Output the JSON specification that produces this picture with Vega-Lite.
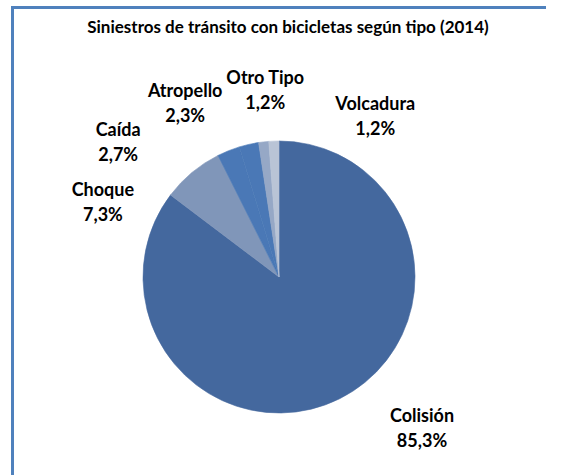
{
  "$schema": "https://vega.github.io/schema/vega-lite/v6.json",
  "width": 534,
  "height": 540,
  "autosize": "none",
  "padding": {"left": 12, "top": 7, "right": 0, "bottom": 0},
  "background": "white",
  "config": {
    "view": {"stroke": null},
    "axis": {"domainColor": "#4F81BD", "domainWidth": 3, "domainCap": "square", "ticks": false, "labels": false, "grid": false, "title": null},
    "locale": {"number": {"decimal": ",", "thousands": ".", "grouping": [3], "currency": ["", "%"]}}
  },
  "title": {
    "text": "Siniestros de tránsito con bicicletas según tipo (2014)",
    "font": "Lato",
    "fontSize": 17,
    "fontWeight": "bold",
    "color": "black",
    "anchor": "middle",
    "offset": -4,
    "dy": 26,
    "dx": 9
  },
  "data": {
    "values": [
      {"tipo": "Colisión", "valor": 85.3},
      {"tipo": "Choque", "valor": 7.3},
      {"tipo": "Caída", "valor": 2.7},
      {"tipo": "Atropello", "valor": 2.3},
      {"tipo": "Otro Tipo", "valor": 1.2},
      {"tipo": "Volcadura", "valor": 1.2}
    ]
  },
  "layer": [
    {
      "mark": {"type": "arc", "outerRadius": 136, "strokeWidth": 0.6},
      "encoding": {
        "x": {"datum": 0, "type": "quantitative", "scale": {"domain": [-1, 1], "nice": false}, "axis": {"orient": "top"}},
        "y": {"datum": 0, "type": "quantitative", "scale": {"domain": [-1, 1], "nice": false}, "axis": {"orient": "left"}},
        "theta": {"field": "valor", "type": "quantitative", "stack": true, "scale": {"domain": [0, 100]}},
        "order": {"field": "valor", "sort": "descending"},
        "color": {
          "field": "tipo",
          "type": "nominal",
          "scale": {
            "domain": ["Colisión", "Choque", "Caída", "Atropello", "Otro Tipo", "Volcadura"],
            "range": ["#44689E", "#8096B9", "#4A78B6", "#4A78B6", "#96A8C6", "#B9C4D6"]
          },
          "legend": null
        },
        "stroke": {
          "field": "tipo",
          "type": "nominal",
          "scale": {
            "domain": ["Colisión", "Choque", "Caída", "Atropello", "Otro Tipo", "Volcadura"],
            "range": ["#44689E", "#8096B9", "#4A78B6", "#4A78B6", "#96A8C6", "#B9C4D6"]
          },
          "legend": null
        }
      }
    },
    {
      "mark": {"type": "text", "font": "Lato", "fontWeight": "bold", "fontSize": 18, "dy": -12.5, "color": "black"},
      "encoding": {
        "x": {"datum": 0, "type": "quantitative"},
        "y": {"datum": 0, "type": "quantitative"},
        "theta": {"field": "valor", "type": "quantitative", "stack": true,
          "scale": {"type": "linear", "domain": [42.65, 88.95, 93.95, 96.45, 98.2, 99.4], "range": [2.388, 5.110, 5.405, 5.784, 6.209, 6.827], "nice": false, "zero": false}},
        "radius": {"field": "valor", "type": "quantitative",
          "scale": {"type": "linear", "domain": [1.2, 2.3, 2.7, 7.3, 85.3], "range": [186, 196, 209, 191, 209], "nice": false, "zero": false}},
        "order": {"field": "valor", "sort": "descending"},
        "detail": {"field": "tipo"},
        "text": {"field": "tipo"}
      }
    },
    {
      "mark": {"type": "text", "font": "Lato", "fontWeight": "bold", "fontSize": 18, "dy": 12.5, "color": "black"},
      "encoding": {
        "x": {"datum": 0, "type": "quantitative"},
        "y": {"datum": 0, "type": "quantitative"},
        "theta": {"field": "valor", "type": "quantitative", "stack": true,
          "scale": {"type": "linear", "domain": [42.65, 88.95, 93.95, 96.45, 98.2, 99.4], "range": [2.388, 5.110, 5.405, 5.784, 6.209, 6.827], "nice": false, "zero": false}},
        "radius": {"field": "valor", "type": "quantitative",
          "scale": {"type": "linear", "domain": [1.2, 2.3, 2.7, 7.3, 85.3], "range": [186, 196, 209, 191, 209], "nice": false, "zero": false}},
        "order": {"field": "valor", "sort": "descending"},
        "detail": {"field": "tipo"},
        "text": {"field": "valor", "type": "quantitative", "format": "$.1f"}
      }
    }
  ],
  "resolve": {"scale": {"theta": "independent", "radius": "independent"}}
}
